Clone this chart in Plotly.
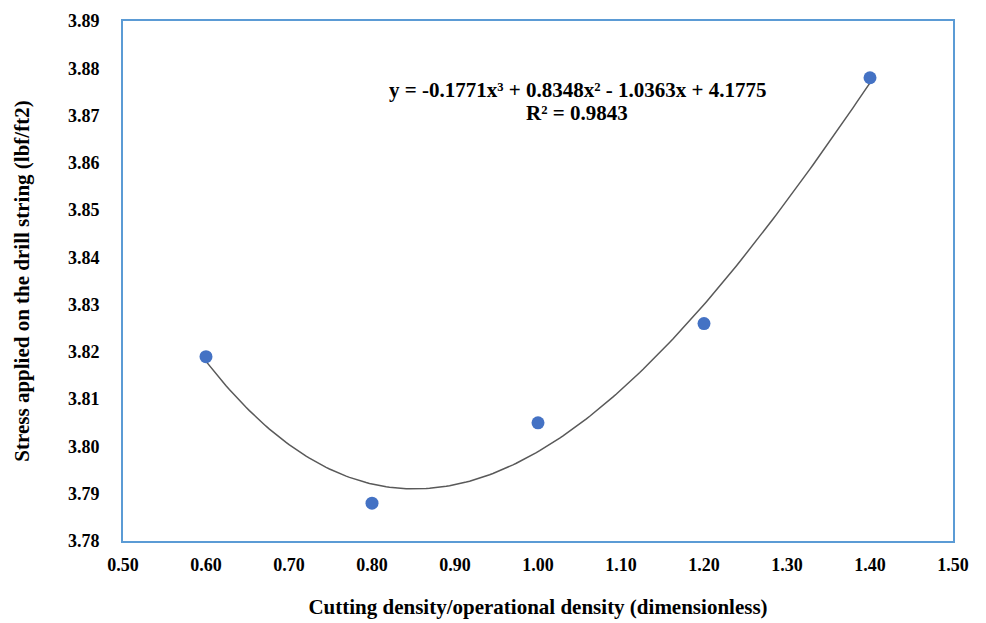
import numpy as np
import plotly.graph_objects as go

density_ratio = [0.60, 0.80, 1.00, 1.20, 1.40]
stress = [3.819, 3.788, 3.805, 3.826, 3.878]
trend_coeffs = [-0.1771, 0.8348, -1.0363, 4.1775]  # cubic trendline as labelled
x_ticks = [0.5, 0.6, 0.7, 0.8, 0.9, 1.0, 1.1, 1.2, 1.3, 1.4, 1.5]
y_ticks = [3.78, 3.79, 3.80, 3.81, 3.82, 3.83, 3.84, 3.85, 3.86, 3.87, 3.88, 3.89]
equation_text = "y = -0.1771x³ + 0.8348x² - 1.0363x + 4.1775"
r2_text = "R² = 0.9843"

xs = np.linspace(min(density_ratio), max(density_ratio), 200)
ys = np.polyval(trend_coeffs, xs)

fam = "Liberation Serif, Times New Roman, serif"
tick_font = dict(family=fam, size=18, color="black")
title_font = dict(family=fam, size=21, color="black")

fig = go.Figure()
fig.add_trace(go.Scatter(x=xs, y=ys, mode="lines",
                         line=dict(color="#595959", width=1.5), hoverinfo="skip"))
fig.add_trace(go.Scatter(x=density_ratio, y=stress, mode="markers",
                         marker=dict(color="#4472C4", size=13)))

fig.add_annotation(x=1.047, y=3.8754, xref="x", yref="y", showarrow=False,
                   text=f"<b>{equation_text}</b>", xanchor="center", yanchor="middle",
                   font=title_font)
fig.add_annotation(x=1.047, y=3.8705, xref="x", yref="y", showarrow=False,
                   text=f"<b>{r2_text}</b>", xanchor="center", yanchor="middle",
                   font=title_font)

fig.update_layout(
    width=986, height=623,
    margin=dict(l=115, r=41, t=13, b=90, autoexpand=False),
    paper_bgcolor="white", plot_bgcolor="white",
    showlegend=False,
    font=tick_font,
    xaxis=dict(range=[0.5, 1.5], tickvals=x_ticks,
               ticktext=[f"<b>{v:.2f}</b>" for v in x_ticks],
               showgrid=False, zeroline=False, automargin=False,
               showline=True, linecolor="#5B9BD5", linewidth=2, mirror=True,
               ticks="", ticklabelstandoff=6, tickfont=tick_font,
               title=dict(text="<b>Cutting density/operational density (dimensionless)</b>",
                          standoff=26, font=title_font)),
    yaxis=dict(range=[3.78, 3.89], tickvals=y_ticks,
               ticktext=[f"<b>{v:.2f}</b>" for v in y_ticks],
               showgrid=False, zeroline=False, automargin=False,
               showline=True, linecolor="#5B9BD5", linewidth=2, mirror=True,
               ticks="", ticklabelstandoff=18, tickfont=tick_font,
               title=dict(text="<b>Stress applied on the drill string (lbf/ft2)</b>",
                          standoff=33, font=title_font)),
)

fig.write_html("out.html")
